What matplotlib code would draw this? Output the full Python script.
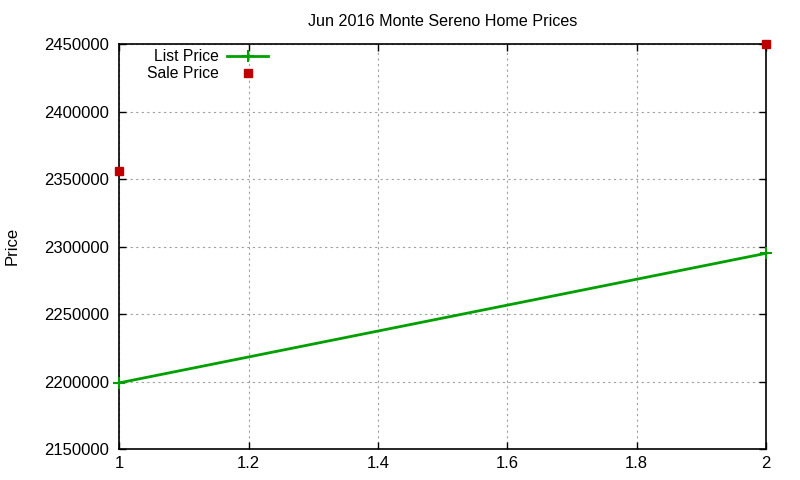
import matplotlib
matplotlib.use("Agg")
import matplotlib.pyplot as plt
from matplotlib.ticker import MultipleLocator, FuncFormatter

plt.rcParams['font.family'] = ['Liberation Sans', 'DejaVu Sans']

x_list = [1, 2]
list_price = [2199000, 2295000]
x_sale = [1, 2]
sale_price = [2356000, 2450000]
title = "Jun 2016 Monte Sereno Home Prices"

fig = plt.figure(figsize=(8, 4.8), dpi=100)
ax = fig.add_axes([0.149, 0.0646, 0.8085, 0.8434])

ax.plot(x_list, list_price, color='#00a000', lw=2, marker='+', ms=8, mew=1.5,
        label='List Price', clip_on=False, zorder=3)
ax.plot(x_sale, sale_price, ls='none', marker='s', ms=6, color='#c00000',
        label='Sale Price', clip_on=False, zorder=4)

ax.set_xlim(1, 2)
ax.set_ylim(2150000, 2450000)
ax.xaxis.set_major_locator(MultipleLocator(0.2))
ax.yaxis.set_major_locator(MultipleLocator(50000))
ax.xaxis.set_major_formatter(FuncFormatter(lambda v, p: f"{v:g}"))
ax.yaxis.set_major_formatter(FuncFormatter(lambda v, p: f"{int(round(v))}"))
ax.tick_params(direction='in', length=5, width=1, top=True, right=True,
               labelsize=12, colors='black', pad=7)
ax.tick_params(axis='x', pad=5)
ax.grid(True, color='#a0a0a0', ls=(0, (2, 3)), lw=0.8)
for s in ax.spines.values():
    s.set_linewidth(1.2)
    s.set_color('black')

ax.set_title(title, fontsize=11.6, pad=13)
fig.text(12/800, 1 - 246/480, 'Price', rotation=90, fontsize=12,
         ha='center', va='center')

leg = ax.legend(loc='upper right', bbox_to_anchor=(268/800, 1 - 49/480),
                bbox_transform=fig.transFigure, frameon=False,
                markerfirst=False, fontsize=11.3, handlelength=2.6,
                borderaxespad=0, borderpad=0, labelspacing=0.15,
                handletextpad=0.5)
leg.set_zorder(5)

fig.savefig('out.png', dpi=100)
